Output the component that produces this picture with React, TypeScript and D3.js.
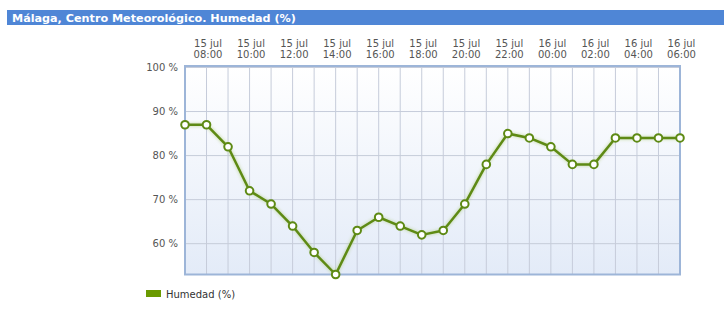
import React from "react";
import * as d3 from "d3";

const hours = ["08","09","10","11","12","13","14","15","16","17","18","19","20","21","22","23","00","01","02","03","04","05","06","07"];
const days = ["15 jul","15 jul","15 jul","15 jul","15 jul","15 jul","15 jul","15 jul","15 jul","15 jul","15 jul","15 jul","15 jul","15 jul","15 jul","15 jul","16 jul","16 jul","16 jul","16 jul","16 jul","16 jul","16 jul","16 jul"];
const humidity = [87,87,82,72,69,64,58,53,63,66,64,62,63,69,78,85,84,82,78,78,84,84,84,84];
const yTicks = [60,70,80,90,100];
const title = "Málaga, Centro Meteorológico. Humedad (%)";
const seriesName = "Humedad (%)";

export default function App() {
  const W = 724, H = 326;
  const left = 185, right = 680, top = 66, bottom = 274.5;
  const x = d3.scaleLinear().domain([0, humidity.length - 1]).range([left, right]);
  const y = d3.scaleLinear().domain([53, 100]).range([bottom, 67.5]);
  const line = d3.line<number>().x((_, i) => x(i)).y(d => y(d));
  const path = line(humidity) || "";
  const font = "Verdana, 'DejaVu Sans', sans-serif";
  const labelIdx = d3.range(0, humidity.length, 2);
  return (
    <svg width={W} height={H} style={{ position: "absolute", left: 0, top: 0, fontFamily: font }}>
      <defs>
        <linearGradient id="bg" x1="0" y1="0" x2="0" y2="1">
          <stop offset="0" stopColor="#ffffff" />
          <stop offset="1" stopColor="#e3ebf8" />
        </linearGradient>
        <filter id="glow" x="-5%" y="-5%" width="110%" height="110%">
          <feGaussianBlur stdDeviation="1.5" />
        </filter>
      </defs>
      <rect x={0} y={0} width={W} height={H} fill="#fff" />
      <rect x={7} y={10} width={W - 7} height={15} fill="#4f86d6" />
      <text x={12} y={21.8} fill="#fff" fontSize={11.2} fontWeight="bold" style={{ fontFamily: font }}>{title}</text>

      <rect x={left} y={top} width={right - left} height={bottom - top} fill="url(#bg)" />
      {humidity.map((_, i) => (
        <line key={"vg" + i} x1={x(i)} x2={x(i)} y1={top} y2={bottom} stroke="#c6ccda" strokeWidth={1} />
      ))}
      {yTicks.map(t => (
        <line key={"hg" + t} x1={left} x2={right} y1={y(t)} y2={y(t)} stroke="#c6ccda" strokeWidth={1} />
      ))}
      <rect x={left} y={top} width={right - left} height={bottom - top} fill="none" stroke="#9db5d8" strokeWidth={2} />

      {yTicks.map(t => (
        <text key={"yl" + t} x={178} y={y(t) + 3.5} textAnchor="end" fontSize={10} fill="#555">{t} %</text>
      ))}
      {labelIdx.map(i => {
        const cx = x(i + 1) + 1.5;
        return (
          <g key={"xl" + i}>
            <text x={cx} y={47} textAnchor="middle" fontSize={10} fill="#555">{days[i]}</text>
            <text x={cx} y={57.5} textAnchor="middle" fontSize={10} fill="#555">{hours[i]}:00</text>
          </g>
        );
      })}

      <path d={path} fill="none" stroke="#a8c870" strokeWidth={4} opacity={0.45} filter="url(#glow)" />
      <path d={path} fill="none" stroke="#5e8a14" strokeWidth={2.5} strokeLinejoin="round" />
      {humidity.map((d, i) => (
        <circle key={"pt" + i} cx={x(i)} cy={y(d)} r={3.8} fill="#fff" stroke="#5e8a14" strokeWidth={2} />
      ))}

      <rect x={146} y={290} width={15} height={7} fill="#6a9a00" />
      <text x={166} y={297.5} fontSize={10} fill="#333">{seriesName}</text>
    </svg>
  );
}
